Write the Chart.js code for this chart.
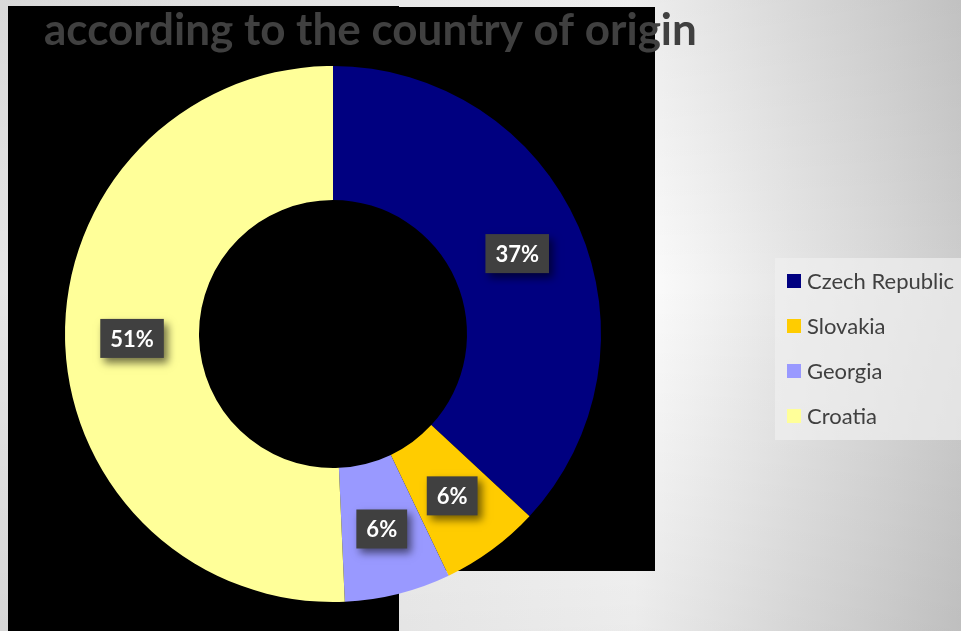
<!DOCTYPE html>
<html>
<head>
<meta charset="utf-8">
<script src="https://cdn.jsdelivr.net/npm/chart.js@4.4.0/dist/chart.umd.min.js"></script>
<style>
  html, body { margin: 0; padding: 0; overflow: hidden; background: #fff; }
</style>
</head>
<body>
<canvas id="myChart" width="961" height="631"></canvas>
<script>
var countries = ["Czech Republic", "Slovakia", "Georgia", "Croatia"];
var shares = [36.9, 6.0, 6.4, 50.7];
var sliceColors = ["#000080", "#ffcc00", "#9999ff", "#ffff99"];
var chartTitle = "according to the country of origin";

// page backdrop: grey gradient with the black panel behind the ring
var backdrop = {
    id: 'backdrop',
    beforeDraw: function(chart) {
        var ctx = chart.ctx;
        var W = chart.width, H = chart.height;
        ctx.save();
        var g = ctx.createLinearGradient(0, 0, W, 0);
        g.addColorStop(0, '#e6e6e6');
        g.addColorStop(0.42, '#f6f6f6');
        g.addColorStop(0.66, '#fdfdfd');
        g.addColorStop(1, '#cdcdcd');
        ctx.fillStyle = g;
        ctx.fillRect(0, 0, W, H);
        var v = ctx.createLinearGradient(0, 0, 0, H);
        v.addColorStop(0, 'rgba(0,0,0,0.06)');
        v.addColorStop(0.45, 'rgba(0,0,0,0)');
        v.addColorStop(1, 'rgba(0,0,0,0.07)');
        ctx.fillStyle = v;
        ctx.fillRect(0, 0, W, H);
        ctx.fillStyle = '#000';
        ctx.fillRect(8, 6, 391, 625);
        ctx.fillRect(398, 7, 257, 564);
        ctx.restore();
    }
};

// title, percentage boxes and legend
var decor = {
    id: 'decor',
    afterDraw: function(chart) {
        var ctx = chart.ctx;
        ctx.save();
        ctx.fillStyle = '#404040';
        ctx.font = 'bold 44px Lato';
        ctx.textBaseline = 'alphabetic';
        ctx.fillText(chartTitle, 44, 45);

        var total = shares.reduce(function(a, b) { return a + b; }, 0);
        var arcs = chart.getDatasetMeta(0).data;
        ctx.font = 'bold 22px Lato';
        ctx.textAlign = 'center';
        ctx.textBaseline = 'middle';
        arcs.forEach(function(arc, i) {
            var p = arc.tooltipPosition();
            var txt = Math.round(shares[i] / total * 100) + '%';
            var w = ctx.measureText(txt).width + 20;
            var h = 39;
            ctx.save();
            ctx.shadowColor = 'rgba(0,0,0,0.55)';
            ctx.shadowBlur = 8;
            ctx.shadowOffsetX = 4;
            ctx.shadowOffsetY = 5;
            ctx.fillStyle = '#404040';
            ctx.fillRect(p.x - w / 2, p.y - h / 2, w, h);
            ctx.restore();
            ctx.fillStyle = '#ffffff';
            ctx.fillText(txt, p.x, p.y + 1);
        });

        ctx.fillStyle = 'rgba(240,240,240,0.7)';
        ctx.fillRect(775, 258, 186, 182);
        ctx.textAlign = 'left';
        ctx.font = '22px Lato';
        countries.forEach(function(name, i) {
            var y = 281 + i * 45;
            ctx.fillStyle = sliceColors[i];
            ctx.fillRect(787, y - 7, 14, 14);
            ctx.fillStyle = '#404040';
            ctx.fillText(name, 807, y + 1);
        });
        ctx.restore();
    }
};

var config = {
    type: 'doughnut',
    data: {
        labels: countries,
        datasets: [{
            data: shares,
            backgroundColor: sliceColors,
            borderWidth: 0,
            hoverOffset: 0
        }]
    },
    options: {
        responsive: false,
        animation: false,
        cutout: '50%',
        layout: {
            padding: { left: 65, right: 360, top: 66, bottom: 29 }
        },
        plugins: {
            legend: { display: false },
            title: { display: false },
            tooltip: { enabled: false }
        }
    },
    plugins: [backdrop, decor]
};

var ctx = document.getElementById("myChart").getContext("2d");
window.myDoughnut = new Chart(ctx, config);
</script>
</body>
</html>
